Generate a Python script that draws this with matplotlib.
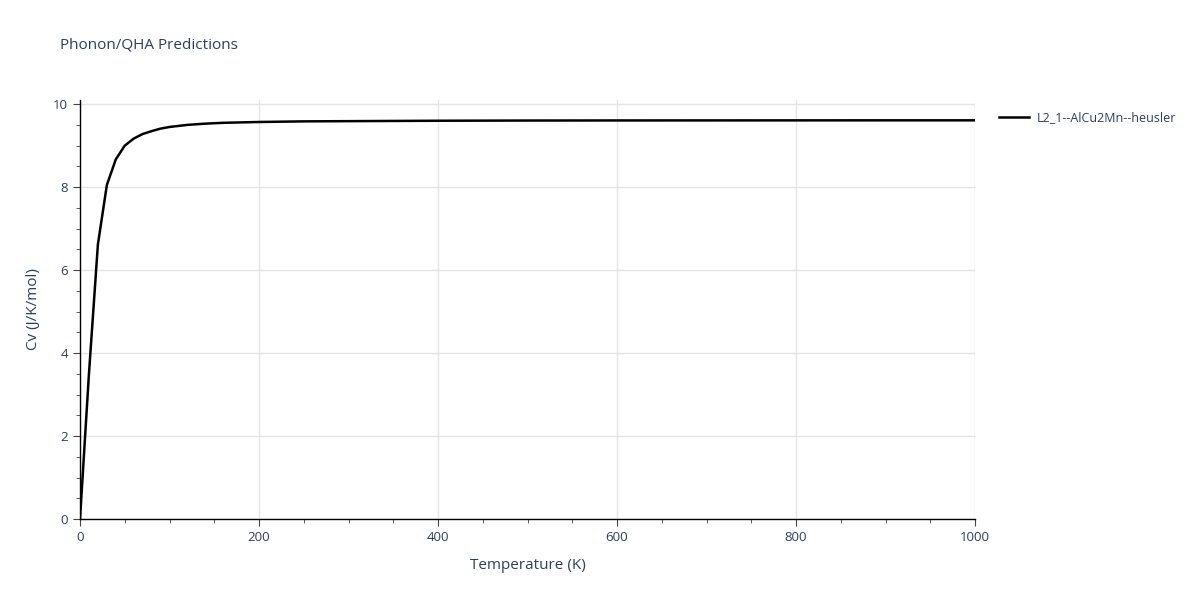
import numpy as np
import matplotlib.pyplot as plt
from matplotlib.ticker import MultipleLocator

# values
temps = [0, 10, 20, 30, 40, 50, 60, 70, 80, 90, 100, 120, 140, 160, 200,
         250, 300, 400, 500, 600, 700, 800, 900, 1000]
cv = [0.0, 3.5, 6.62, 8.05, 8.67, 9.0, 9.17, 9.28, 9.35, 9.41, 9.45, 9.5,
      9.53, 9.55, 9.57, 9.585, 9.59, 9.60, 9.605, 9.607, 9.608, 9.609, 9.61, 9.61]
label = "L2_1--AlCu2Mn--heusler"

txt = "#2a3f5f"
plt.rcParams['font.family'] = ['Open Sans', 'DejaVu Sans']

fig = plt.figure(figsize=(12, 6), dpi=100)
ax = fig.add_axes([80/1200, 81/600, 895/1200, 419/600])

ax.plot(temps, cv, color="black", lw=1.8, label=label)

ax.set_xlim(0, 1000)
ax.set_ylim(0, 10.1)
ax.xaxis.set_major_locator(MultipleLocator(200))
ax.xaxis.set_minor_locator(MultipleLocator(50))
ax.yaxis.set_major_locator(MultipleLocator(2))
ax.yaxis.set_minor_locator(MultipleLocator(0.5))
ax.grid(True, which="major", color="#e5e5e5", lw=1)
ax.set_axisbelow(True)

for s in ["top", "right"]:
    ax.spines[s].set_visible(False)
for s in ["left", "bottom"]:
    ax.spines[s].set_color("black")
    ax.spines[s].set_linewidth(1)

ax.tick_params(which="major", length=5, color="#444444", labelsize=9.5, labelcolor=txt)
ax.tick_params(which="minor", length=3, color="#444444")

ax.set_xlabel("Temperature (K)", fontsize=11, color=txt, labelpad=10)
ax.set_ylabel("Cv (J/K/mol)", fontsize=11, color=txt, labelpad=9)

fig.text(60/1200, 1 - 45/600, "Phonon/QHA Predictions", fontsize=11, color=txt, va="center")

ax.legend(loc="upper left", bbox_to_anchor=(988/1200, 1 - 100/600),
          bbox_transform=fig.transFigure, frameon=False,
          fontsize=9, labelcolor=txt, handlelength=2.4, handletextpad=0.6)

fig.savefig("out.png", dpi=100)
